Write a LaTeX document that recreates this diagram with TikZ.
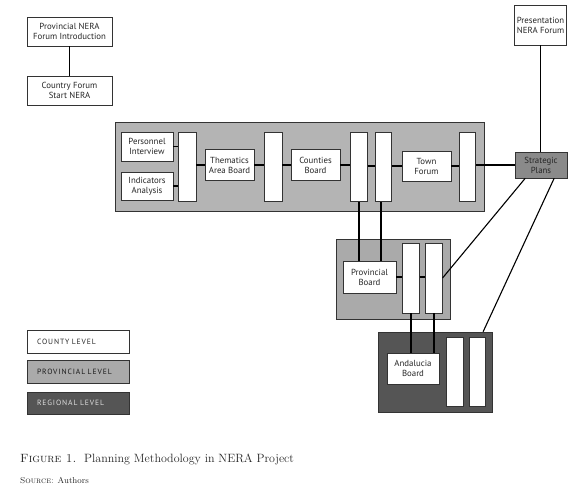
\documentclass[tikz,border=0pt]{standalone}
\usepackage{fontspec}
\newfontfamily\dsans{PT Sans}
\newfontfamily\lsans[LetterSpace=12,WordSpace=1.6]{PT Sans}
\usetikzlibrary{calc}
\definecolor{countygray}{HTML}{B4B4B4}
\definecolor{provgray}{HTML}{AAAAAA}
\definecolor{stratgray}{HTML}{8A8A8A}
\definecolor{reggray}{HTML}{555555}
\begin{document}
\begin{tikzpicture}[x=1pt,y=-1pt,
  box/.style={draw=black!80, line width=0.6pt, fill=white, inner sep=0pt, font=\dsans\fontsize{8.8}{10}\selectfont, align=center, text=black!85},
  bar/.style={draw=black!80, line width=0.6pt, fill=white, inner sep=0pt, minimum width=16.5pt, minimum height=69pt},
  grp/.style={draw=black!80, line width=0.6pt, inner sep=0pt},
  conn/.style={line width=1.1pt, black},
  legbox/.style={draw=black!80, line width=0.6pt, inner xsep=10pt, inner ysep=0pt, minimum width=102pt, minimum height=23pt, text width=82pt, align=left, font=\lsans\fontsize{7.6}{9}\selectfont},
]
\useasboundingbox (0,0) rectangle (580,492);
% groups
\node[grp, fill=countygray, minimum width=369pt, minimum height=89pt] (cgrp) at (299.5,166.5) {};
\node[grp, fill=provgray, minimum width=114pt, minimum height=80pt] (pgrp) at (393,279) {};
\node[grp, fill=reggray, minimum width=114pt, minimum height=80pt] (rgrp) at (435,372) {};
% top left
\node[box, minimum width=85pt, minimum height=29pt] (intro) at (69.5,31.5) {Provincial NERA\\Forum Introduction};
\node[box, minimum width=85pt, minimum height=29pt] (country) at (69.5,90.5) {Country Forum\\Start NERA};
% right
\node[box, minimum width=52pt, minimum height=40pt] (present) at (540.5,25) {Presentation\\NERA Forum};
\node[box, fill=stratgray, minimum width=52pt, minimum height=26pt] (strat) at (541,165) {Strategic\\Plans};
% county row
\node[box, minimum width=52pt, minimum height=29pt] (pers) at (147,146.5) {Personnel\\Interview};
\node[box, minimum width=52pt, minimum height=28pt] (ind) at (147,186) {Indicators\\Analysis};
\node[bar, minimum width=18pt] (b1) at (187,166.5) {};
\node[box, minimum width=49pt, minimum height=31pt] (them) at (229.5,165) {Thematics\\Area Board};
\node[bar, minimum width=18pt] (b2) at (273,166.5) {};
\node[box, minimum width=49pt, minimum height=31pt] (coun) at (315.5,165) {Counties\\Board};
\node[bar] (b3) at (359,167) {};
\node[bar] (b4) at (383.5,167) {};
\node[box, minimum width=49pt, minimum height=30pt] (town) at (426.5,166) {Town\\Forum};
\node[bar] (b5) at (467.5,166.5) {};
% provincial
\node[box, minimum width=53pt, minimum height=32pt] (pboard) at (369.5,277) {Provincial\\Board};
\node[bar, minimum height=70pt] (pb1) at (411,278) {};
\node[bar, minimum height=70pt] (pb2) at (434,278) {};
% regional
\node[box, minimum width=52pt, minimum height=31pt] (aboard) at (413,368.5) {Andalucia\\Board};
\node[bar] (rb1) at (455,371.5) {};
\node[bar] (rb2) at (477.5,371.5) {};
% connectors
\draw[conn] (intro) -- (country);
\draw[conn] (present.south) -- (present.south |- strat.north);
\draw[conn] (pers.east) -- (pers.east -| b1.west);
\draw[conn] (ind.east) -- (ind.east -| b1.west);
\draw[conn] (them.west -| b1.east) -- (them.west);
\draw[conn] (them.east) -- (them.east -| b2.west);
\draw[conn] (coun.west -| b2.east) -- (coun.west);
\draw[conn] (coun.east) -- (coun.east -| b3.west);
\draw[conn] (town.west -| b3.east) -- (town.west -| b4.west);
\draw[conn] (town.west -| b4.east) -- (town.west);
\draw[conn] (town.east) -- (town.east -| b5.west);
\draw[conn] (strat.west -| b5.east) -- (strat.west);
\draw[conn] (b3.south) -- (b3.south |- pboard.north);
\draw[conn] ([xshift=-2.5pt]b4.south) -- ([xshift=-2.5pt]b4.south |- pboard.north);
\draw[conn] (pboard.east) -- (pboard.east -| pb1.west);
\draw[conn] (pboard.east -| pb1.east) -- (pboard.east -| pb2.west);
\draw[conn] (pb1.south) -- (pb1.south |- aboard.north);
\draw[conn] (pb2.south) -- (pb2.south |- aboard.north);
\coordinate (s1) at ($(strat.south west)!0.2!(strat.south east)$);
\coordinate (s2) at ($(strat.south west)!0.75!(strat.south east)$);
\coordinate (rtop) at ($(rgrp.north east)!0.08!(rgrp.north west)$);
\draw[conn] (s1) -- (pb2.east);
\draw[conn] (s2) -- (rtop);
% legend
\node[legbox, fill=white, text=black!85] (lc) at (78,341.5) {COUNTY LEVEL};
\node[legbox, fill=provgray, text=black!90] (lp) at (78,371.5) {PROVINCIAL LEVEL};
\node[legbox, fill=reggray, text=black!12, minimum height=22pt] (lr) at (78,403) {REGIONAL LEVEL};
% caption
\node[anchor=base west, inner sep=0pt, text=black!85] (cap) at (20,462) {\fontsize{12}{14}\selectfont\textsc{Figure 1.}\ \ Planning Methodology in NERA Project};
\node[anchor=base west, inner sep=0pt, text=black!85] (src) at (20,483) {\fontsize{8.6}{10}\selectfont\textsc{Source:} Authors};
\end{tikzpicture}
\end{document}
